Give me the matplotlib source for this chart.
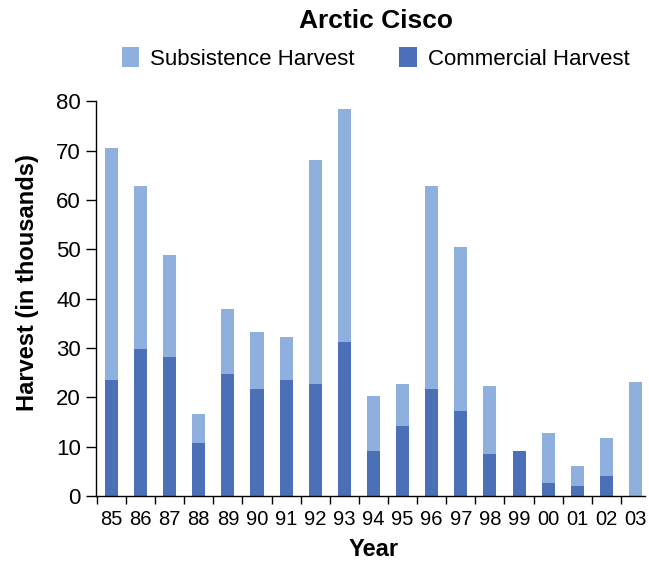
import matplotlib
matplotlib.use("Agg")
import matplotlib.pyplot as plt
import numpy as np

years = ["85", "86", "87", "88", "89", "90", "91", "92", "93", "94",
         "95", "96", "97", "98", "99", "00", "01", "02", "03"]
commercial = [23.6, 29.8, 28.2, 10.7, 24.7, 21.7, 23.6, 22.7, 31.2, 9.2,
              14.2, 21.7, 17.2, 8.6, 9.2, 2.6, 2.0, 4.0, 0.0]
total = [70.5, 62.9, 48.8, 16.7, 37.8, 33.3, 32.3, 68.0, 78.5, 20.2,
         22.7, 62.9, 50.5, 22.3, 9.2, 12.7, 6.1, 11.7, 23.2]
subsistence = [t - c for t, c in zip(total, commercial)]

light = "#8fb0de"
dark = "#4b70b8"

plt.rcParams["font.family"] = ["Liberation Sans", "DejaVu Sans"]

fig = plt.figure(figsize=(6.49, 5.65), dpi=100)
ax = fig.add_axes([0.148, 0.122, 0.846, 0.699])

x = np.arange(len(years))
ax.bar(x, commercial, width=0.45, color=dark, label="Commercial Harvest")
ax.bar(x, subsistence, width=0.45, bottom=commercial, color=light,
       label="Subsistence Harvest")

ax.set_ylim(0, 80)
ax.set_xlim(-0.53, len(years) - 0.67)
ax.set_yticks(range(0, 81, 10))
ax.tick_params(axis="y", labelsize=16, length=7, width=1, direction="out", pad=4)

# labels under the bars, tick marks between them
ax.set_xticks(x)
ax.set_xticklabels(years)
ax.tick_params(axis="x", which="major", length=0, labelsize=14.5, pad=10)
ax.set_xticks(np.arange(-0.5, len(years) - 1, 1.0), minor=True)
ax.tick_params(axis="x", which="minor", length=6, width=1, direction="out")

for s in ["top", "right"]:
    ax.spines[s].set_visible(False)
for s in ["left", "bottom"]:
    ax.spines[s].set_linewidth(1)

fig.text(0.042, 0.50, "Harvest (in thousands)", rotation=90, fontsize=17,
         fontweight="bold", ha="center", va="center")
fig.text(0.576, 0.027, "Year", fontsize=17, fontweight="bold",
         ha="center", va="center")
fig.text(0.58, 0.963, "Arctic Cisco", fontsize=19, fontweight="bold",
         ha="center", va="center")

handles, labels = ax.get_legend_handles_labels()
fig.legend(handles[::-1], labels[::-1], loc="center", ncol=2,
           bbox_to_anchor=(0.579, 0.896), frameon=False, fontsize=16,
           handlelength=0.8, handleheight=1.0, handletextpad=0.5,
           columnspacing=2.0)

fig.savefig("out.png", dpi=100)
